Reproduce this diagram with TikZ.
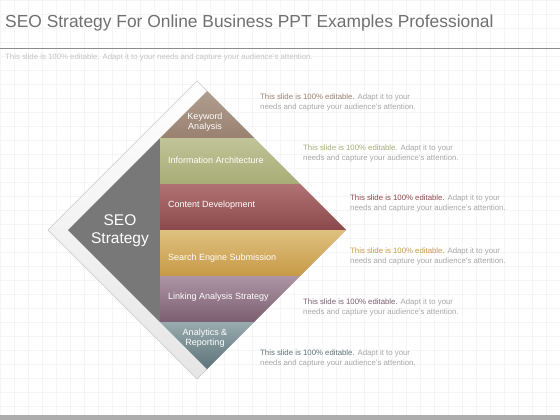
\documentclass[tikz,border=0pt]{standalone}
\usepackage{fontspec}
\setmainfont{Liberation Sans}
\definecolor{titlegray}{HTML}{707070}
\definecolor{lightgray}{HTML}{C4C4C4}
\definecolor{bodygray}{HTML}{A8A8A8}
\definecolor{kwtop}{HTML}{B09D8F}\definecolor{kwbot}{HTML}{9A8170}
\definecolor{iatop}{HTML}{C0C498}\definecolor{iabot}{HTML}{A8AD76}
\definecolor{cdtop}{HTML}{B07272}\definecolor{cdbot}{HTML}{8C494C}
\definecolor{setop}{HTML}{DEC17F}\definecolor{sebot}{HTML}{C89947}
\definecolor{latop}{HTML}{AD95A5}\definecolor{labot}{HTML}{7B5E70}
\definecolor{antop}{HTML}{98ABAF}\definecolor{anbot}{HTML}{5D7379}
\definecolor{seogray}{HTML}{787878}
\begin{document}
\begin{tikzpicture}[x=1pt,y=-1pt,
  gridline/.style={draw=black!4,line width=0.4pt},
  lbl/.style={text=white,font=\fontsize{9}{10.5}\selectfont,inner sep=0pt},
  desc/.style={anchor=west,align=left,text=bodygray,font=\fontsize{7.8}{10}\selectfont,inner sep=0pt}]
\useasboundingbox (0,0) rectangle (560,420);
\fill[white] (0,0) rectangle (560,420);
% faint grid
\foreach \gx in {0,14,...,560} \draw[gridline] (\gx,0) -- (\gx,420);
\foreach \gy in {0,14,...,420} \draw[gridline] (0,\gy) -- (560,\gy);
% header
\node[anchor=base west,text=titlegray,font=\fontsize{17.4}{20}\selectfont,inner sep=0pt] (title) at (5,28) {SEO Strategy For Online Business PPT Examples Professional};
\draw[black!45,line width=0.9pt] (0,48) -- (560,48);
\node[anchor=west,text=lightgray,font=\fontsize{7.8}{9}\selectfont,inner sep=0pt] (subtitle) at (5,57) {This slide is 100\% editable. Adapt it to your needs and capture your audience's attention.};
\fill[black!32] (0,415) rectangle (560,420);
% frame behind the diamond
\shade[top color=white,bottom color=black!10,draw=black!22,line width=0.5pt] (197,81) -- (48,230) -- (197,379) -- (346,230) -- cycle;
% left part
\fill[seogray] (160,138) -- (68,230) -- (160,322) -- cycle;
% bands
\shade[top color=kwtop,bottom color=kwbot] (160,138) -- (207,91) -- (254,138) -- cycle;
\shade[top color=iatop,bottom color=iabot] (160,138) -- (254,138) -- (300,184) -- (160,184) -- cycle;
\shade[top color=cdtop,bottom color=cdbot] (160,184) -- (300,184) -- (346,230) -- (160,230) -- cycle;
\shade[top color=setop,bottom color=sebot] (160,230) -- (346,230) -- (300,276) -- (160,276) -- cycle;
\shade[top color=latop,bottom color=labot] (160,276) -- (300,276) -- (254,322) -- (160,322) -- cycle;
\shade[top color=antop,bottom color=anbot] (160,322) -- (254,322) -- (207,369) -- cycle;
% labels
\node[lbl,align=center,font=\fontsize{15.5}{18}\selectfont] (seo) at (120,231) {SEO\\Strategy};
\node[lbl,align=center] (kw) at (205,122) {Keyword\\Analysis};
\node[lbl,anchor=west] (ia) at (168,160) {Information Architecture};
\node[lbl,anchor=west] (cd) at (168,205) {Content Development};
\node[lbl,anchor=west] (se) at (168,258) {Search Engine Submission};
\node[lbl,anchor=west] (la) at (168,297) {Linking Analysis Strategy};
\node[lbl,align=center] (an) at (205,338) {Analytics \&\\Reporting};
% descriptions
\node[desc] (kwdesc) at (260,102) {\textcolor{kwbot}{This slide is 100\% editable.} Adapt it to your\\needs and capture your audience's attention.};
\node[desc] (iadesc) at (303,153) {\textcolor{iabot}{This slide is 100\% editable.} Adapt it to your\\needs and capture your audience's attention.};
\node[desc] (cddesc) at (350,203) {\textcolor{cdbot}{This slide is 100\% editable.} Adapt it to your\\needs and capture your audience's attention.};
\node[desc] (sedesc) at (350,256) {\textcolor{sebot}{This slide is 100\% editable.} Adapt it to your\\needs and capture your audience's attention.};
\node[desc] (ladesc) at (303,307) {\textcolor{labot}{This slide is 100\% editable.} Adapt it to your\\needs and capture your audience's attention.};
\node[desc] (andesc) at (260,358) {\textcolor{anbot}{This slide is 100\% editable.} Adapt it to your\\needs and capture your audience's attention.};
\end{tikzpicture}
\end{document}
